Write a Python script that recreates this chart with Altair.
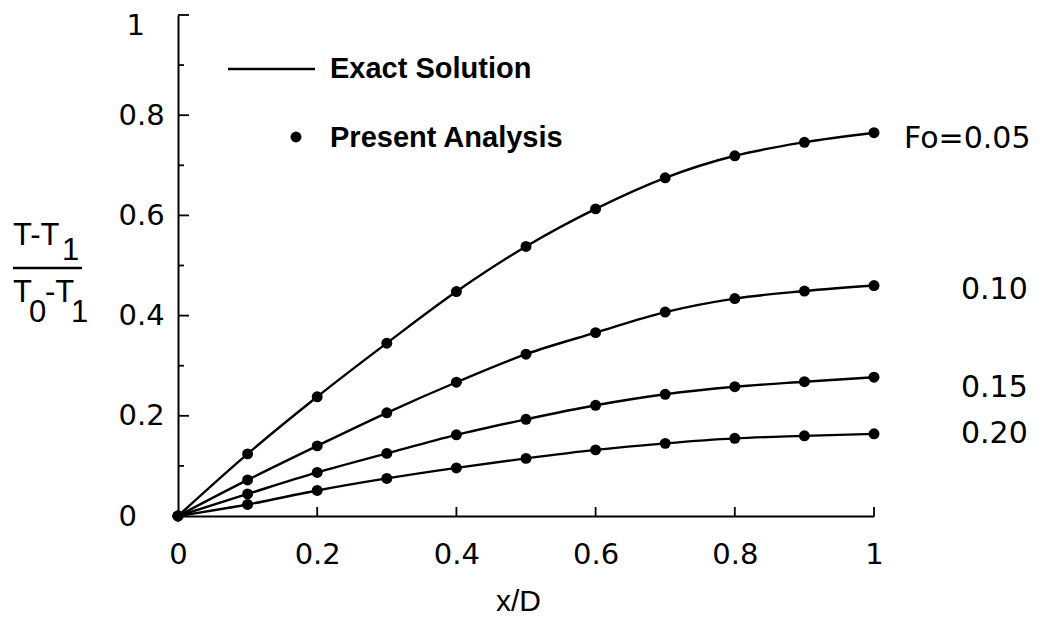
import altair as alt
import pandas as pd

# ---- data ----
x_vals = [0.0, 0.1, 0.2, 0.3, 0.4, 0.5, 0.6, 0.7, 0.8, 0.9, 1.0]
fo_005 = [0.0, 0.124, 0.238, 0.345, 0.448, 0.538, 0.613, 0.675, 0.719, 0.746, 0.765]
fo_010 = [0.0, 0.072, 0.140, 0.206, 0.267, 0.323, 0.366, 0.407, 0.434, 0.449, 0.460]
fo_015 = [0.0, 0.044, 0.087, 0.125, 0.162, 0.193, 0.221, 0.243, 0.258, 0.268, 0.277]
fo_020 = [0.0, 0.023, 0.051, 0.075, 0.096, 0.115, 0.132, 0.145, 0.155, 0.160, 0.164]
series_names = ["Fo=0.05", "0.10", "0.15", "0.20"]
axis_values = [0, 0.2, 0.4, 0.6, 0.8, 1]
x_major_ticks = [0.2, 0.4, 0.6, 0.8, 1.0]
y_major_ticks = [0.2, 0.4, 0.6, 0.8, 1.0]
y_minor_ticks = [0.1, 0.3, 0.5, 0.7, 0.9]
legend_labels = ["Exact Solution", "Present Analysis"]

all_series = [fo_005, fo_010, fo_015, fo_020]
rows = []
for name, ys_ in zip(series_names, all_series):
    for xv, yv in zip(x_vals, ys_):
        rows.append({"series": name, "x": xv, "y": yv})
df = pd.DataFrame(rows)

xs = alt.Scale(domain=[0, 1], nice=False, zero=False)
ys = alt.Scale(domain=[0, 1], nice=False, zero=False)

x_axis = alt.Axis(values=axis_values, format="~g", ticks=False, tickSize=0, grid=False,
                  domainColor="black", domainWidth=2,
                  labelFont="DejaVu Sans", labelFontSize=29, labelColor="black",
                  labelPadding=24, labelFlush=False,
                  title="x/D", titleFont="Liberation Sans", titleFontSize=30,
                  titleFontWeight="normal", titleColor="black",
                  titleX=340, titleY=94, titleBaseline="alphabetic", titleAlign="center")
y_axis = alt.Axis(values=axis_values, format="~g", ticks=False, tickSize=0, grid=False,
                  domainColor="black", domainWidth=2,
                  labelFont="DejaVu Sans", labelFontSize=29, labelColor="black",
                  labelAlign="left", labelBaseline="middle",
                  labelPadding={"condition": {"test": "datum.value == 1", "value": 52}, "value": 60},
                  labelOffset={"condition": {"test": "datum.value == 1", "value": 10}, "value": 0},
                  labelFlush=False, title="")

X = alt.X("x:Q", scale=xs, axis=x_axis)
Y = alt.Y("y:Q", scale=ys, axis=y_axis)

lines = alt.Chart(df).mark_line(color="black", strokeWidth=2.4, interpolate="monotone").encode(
    x=X, y=Y, detail="series:N",
)
points = alt.Chart(df).mark_circle(size=120, color="black", opacity=1).encode(x=X, y=Y)

# inward ticks
xt = alt.Chart(pd.DataFrame({"x": x_major_ticks})).mark_rule(color="black", strokeWidth=1.8).encode(
    x=X, y=alt.value(501), y2=alt.value(492))
ytM = alt.Chart(pd.DataFrame({"y": y_major_ticks})).mark_rule(color="black", strokeWidth=1.8).encode(
    y=Y, x=alt.value(0), x2=alt.value(11))
ytm = alt.Chart(pd.DataFrame({"y": y_minor_ticks})).mark_rule(color="black", strokeWidth=1.8).encode(
    y=Y, x=alt.value(0), x2=alt.value(6))

# legend
leg_line = alt.Chart(pd.DataFrame({"label": [legend_labels[0]]})).mark_rule(color="black", strokeWidth=2.4).encode(
    x=alt.value(50), x2=alt.value(137), y=alt.value(54))
leg_dot = alt.Chart(pd.DataFrame({"label": [legend_labels[1]]})).mark_circle(size=120, color="black", opacity=1).encode(
    x=alt.value(118), y=alt.value(122))
leg_t1 = alt.Chart(pd.DataFrame({"label": [legend_labels[0]]})).mark_text(
    align="left", baseline="alphabetic", font="Liberation Sans", fontWeight="bold", fontSize=29, color="black"
).encode(text="label:N", x=alt.value(152), y=alt.value(63))
leg_t2 = alt.Chart(pd.DataFrame({"label": [legend_labels[1]]})).mark_text(
    align="left", baseline="alphabetic", font="Liberation Sans", fontWeight="bold", fontSize=29, color="black"
).encode(text="label:N", x=alt.value(152), y=alt.value(132))

# right-hand Fo labels
label_style = [(30, 15), (87, 13), (87, 20), (87, 9)]
fo_labels = []
for name, ys_, (dx, dy) in zip(series_names, all_series, label_style):
    d = pd.DataFrame({"x": [x_vals[-1]], "y": [ys_[-1]], "label": [name]})
    fo_labels.append(
        alt.Chart(d).mark_text(align="left", baseline="alphabetic", dx=dx, dy=dy,
                               font="DejaVu Sans", fontSize=30, color="black").encode(
            x=X, y=Y, text="label:N")
    )

# y-axis title as a fraction (T-T1)/(T0-T1)
def ytxt(s, xp, yp):
    return alt.Chart(pd.DataFrame({"t": [s]})).mark_text(
        align="left", baseline="alphabetic", font="Liberation Sans", fontSize=31, color="black"
    ).encode(text="t:N", x=alt.value(xp), y=alt.value(yp))

frac = [
    ytxt("T-T", -165, 230), ytxt("1", -116, 245),
    ytxt("T", -165, 287), ytxt("0", -149, 307), ytxt("-T", -133, 287), ytxt("1", -107, 307),
]
bar = alt.Chart(pd.DataFrame({"t": ["bar"]})).mark_rule(color="black", strokeWidth=2.5).encode(
    x=alt.value(-165), x2=alt.value(-96), y=alt.value(253))

chart = alt.layer(
    lines, points, xt, ytM, ytm, leg_line, leg_dot, leg_t1, leg_t2, bar, *fo_labels, *frac
).properties(
    width=696, height=501,
    autosize=alt.AutoSizeParams(type="none"),
    padding={"left": 170, "top": 7, "right": 165, "bottom": 101},
    background="white",
).configure_view(strokeWidth=0)

chart.save("out.html", embed_options={"renderer": "svg", "actions": False})
